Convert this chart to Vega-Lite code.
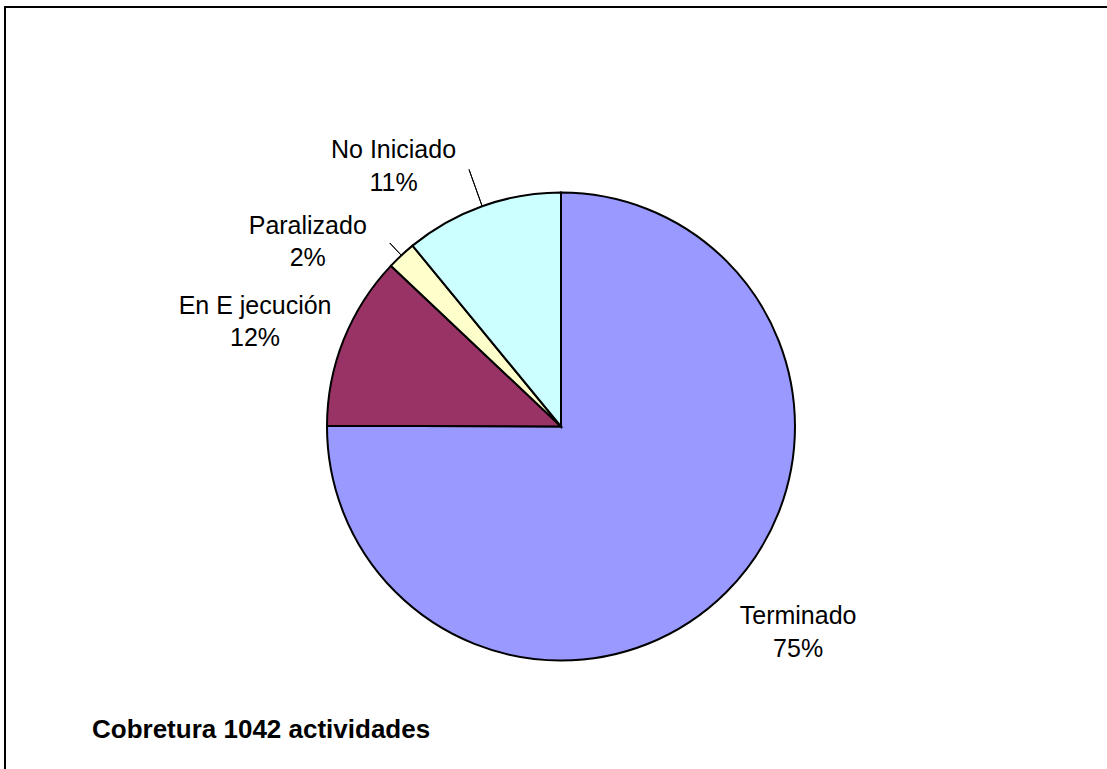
{
  "$schema": "https://vega.github.io/schema/vega-lite/v6.json",
  "autosize": {"type": "fit", "contains": "padding"},
  "width": 1107,
  "height": 769,
  "padding": {"left": 5, "top": 7, "right": -10, "bottom": -77},
  "background": "white",
  "view": {"stroke": "black", "strokeWidth": 2},
  "config": {"view": {"stroke": "black", "strokeWidth": 2}},
  "title": {
    "text": "Cobretura 1042 actividades",
    "orient": "top",
    "anchor": "start",
    "frame": "group",
    "offset": 0,
    "baseline": "alphabetic",
    "dx": 87,
    "dy": 757,
    "font": "Liberation Sans",
    "fontSize": 26,
    "fontWeight": "bold",
    "color": "black"
  },
  "data": {"values": [
    {"estado": "Terminado", "actividades": 782, "orden": 1, "etiqueta": "Terminado\n75%"},
    {"estado": "En Ejecución", "actividades": 125, "orden": 2, "etiqueta": "En E jecución\n12%"},
    {"estado": "Paralizado", "actividades": 21, "orden": 3, "etiqueta": "Paralizado\n2%"},
    {"estado": "No Iniciado", "actividades": 114, "orden": 4, "etiqueta": "No Iniciado\n11%"}
  ]},
  "encoding": {
    "theta": {"field": "actividades", "type": "quantitative", "stack": true},
    "order": {"field": "orden", "type": "quantitative"}
  },
  "layer": [
    {
      "mark": {"type": "arc", "radius": 234, "stroke": "black", "strokeWidth": 2},
      "encoding": {
        "color": {
          "field": "estado",
          "type": "nominal",
          "scale": {"domain": ["Terminado", "En Ejecución", "Paralizado", "No Iniciado"], "range": ["#9999FF", "#993366", "#FFFFCC", "#CCFFFF"]},
          "legend": null
        }
      }
    },
    {
      "mark": {"type": "arc", "innerRadius": 234, "outerRadius": 273, "padAngle": 3, "fill": "transparent", "strokeWidth": 1},
      "encoding": {
        "stroke": {"condition": {"test": "datum.estado === 'No Iniciado'", "value": "black"}, "value": "transparent"}
      }
    },
    {
      "mark": {"type": "arc", "innerRadius": 234, "outerRadius": 251, "padAngle": 3, "fill": "transparent", "strokeWidth": 1},
      "encoding": {
        "stroke": {"condition": {"test": "datum.estado === 'Paralizado'", "value": "black"}, "value": "transparent"}
      }
    },
    {
      "mark": {"type": "text", "radius": 318, "dx": 12.6, "dy": -35.6, "align": "center", "baseline": "middle", "fontSize": 25, "lineBreak": "\n", "lineHeight": 32.5, "font": "Liberation Sans", "color": "black"},
      "encoding": {"text": {"condition": {"test": "datum.estado === 'Terminado'", "field": "etiqueta", "type": "nominal"}, "value": ""}}
    },
    {
      "mark": {"type": "text", "radius": 318, "dx": -10.6, "dy": -2.6, "align": "center", "baseline": "middle", "fontSize": 25, "lineBreak": "\n", "lineHeight": 32.5, "font": "Liberation Sans", "color": "black"},
      "encoding": {"text": {"condition": {"test": "datum.estado === 'En Ejecución'", "field": "etiqueta", "type": "nominal"}, "value": ""}}
    },
    {
      "mark": {"type": "text", "radius": 318, "dx": -36.3, "dy": 31.6, "align": "center", "baseline": "middle", "fontSize": 25, "lineBreak": "\n", "lineHeight": 32.5, "font": "Liberation Sans", "color": "black"},
      "encoding": {"text": {"condition": {"test": "datum.estado === 'Paralizado'", "field": "etiqueta", "type": "nominal"}, "value": ""}}
    },
    {
      "mark": {"type": "text", "radius": 318, "dx": -60.3, "dy": 23, "align": "center", "baseline": "middle", "fontSize": 25, "lineBreak": "\n", "lineHeight": 32.5, "font": "Liberation Sans", "color": "black"},
      "encoding": {"text": {"condition": {"test": "datum.estado === 'No Iniciado'", "field": "etiqueta", "type": "nominal"}, "value": ""}}
    }
  ]
}
